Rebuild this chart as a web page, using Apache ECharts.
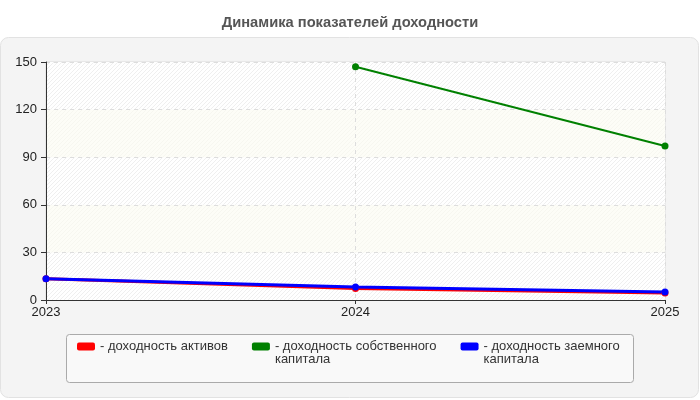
<!DOCTYPE html>
<html>
<head>
<meta charset="utf-8">
<script src="https://cdn.jsdelivr.net/npm/echarts@6/dist/echarts.min.js"></script>
<style>
  html, body { margin: 0; padding: 0; background: #fff; }
  #main { width: 700px; height: 400px; }
</style>
</head>
<body>
<div id="main"></div>
<script>
// данные графика
const years = ['2023', '2024', '2025'];
const assetsReturn = [13.4, 7.3, 4.4];
const equityReturn = [null, 147, 97];
const debtReturn = [13.4, 8.2, 5.0];
const seriesNames = [
  'доходность активов',
  'доходность собственного капитала',
  'доходность заемного капитала'
];
// пустая первая строка - чтобы значок стоял на уровне первой строки подписи
const legendLabels = [
  '- доходность активов',
  '\n- доходность собственного\nкапитала',
  '\n- доходность заемного\nкапитала'
];

// штриховка для фона
function hatch(base, line) {
  const c = document.createElement('canvas');
  c.width = 4; c.height = 4;
  const ctx = c.getContext('2d');
  ctx.fillStyle = base;
  ctx.fillRect(0, 0, 4, 4);
  ctx.strokeStyle = line;
  ctx.lineWidth = 1;
  ctx.beginPath();
  ctx.moveTo(0, 4); ctx.lineTo(4, 0);
  ctx.moveTo(-1, 1); ctx.lineTo(1, -1);
  ctx.moveTo(3, 5); ctx.lineTo(5, 3);
  ctx.stroke();
  return { image: c, repeat: 'repeat' };
}

const chart = echarts.init(document.getElementById('main'), null, { renderer: 'canvas' });
const font = "'Liberation Sans', Arial, sans-serif";

const option = {
  backgroundColor: '#fff',
  textStyle: { fontFamily: font },
  animation: false,
  title: {
    text: 'Динамика показателей доходности',
    left: 'center',
    top: 10,
    textStyle: { fontSize: 14.7, fontWeight: 'bold', color: '#555', fontFamily: font }
  },
  graphic: [
    {
      type: 'rect',
      z: -10,
      shape: { x: 0.5, y: 37.5, width: 698, height: 360, r: 8 },
      style: { fill: '#f4f4f4', stroke: '#e2e2e2', lineWidth: 1 }
    },
    {
      type: 'rect',
      z: -9,
      shape: { x: 66.5, y: 334.5, width: 567, height: 48, r: 3 },
      style: { fill: '#f9f9f9', stroke: '#aaa', lineWidth: 1 }
    }
  ],
  legend: {
    left: 77,
    top: 327,
    padding: 0,
    itemWidth: 18,
    itemHeight: 8,
    itemGap: 24,
    icon: 'roundRect',
    textStyle: { fontSize: 13, color: '#333', lineHeight: 13, fontFamily: font },
    formatter: (name) => legendLabels[seriesNames.indexOf(name)],
    data: seriesNames
  },
  grid: {
    left: 46,
    right: 35,
    top: 62,
    bottom: 100,
    show: true,
    borderColor: '#ddd',
    borderWidth: 1,
    backgroundColor: '#fff'
  },
  xAxis: {
    type: 'category',
    data: years,
    boundaryGap: false,
    axisLine: { lineStyle: { color: '#333', width: 1 } },
    axisTick: { show: true, length: 4, lineStyle: { color: '#333' } },
    axisLabel: { color: '#222', fontSize: 13, margin: 6, fontFamily: font },
    splitLine: { show: true, lineStyle: { color: '#ddd', type: [4, 4] } }
  },
  yAxis: {
    type: 'value',
    min: 0,
    max: 150,
    interval: 30,
    axisLine: { show: true, lineStyle: { color: '#333', width: 1 } },
    axisTick: { show: true, length: 5, lineStyle: { color: '#333' } },
    axisLabel: { color: '#222', fontSize: 13, margin: 9, fontFamily: font },
    splitLine: { show: true, lineStyle: { color: '#ddd', type: [4, 4] } },
    splitArea: {
      show: true,
      areaStyle: {
        color: [hatch('#ffffff', '#efefef'), hatch('#fdfdf7', '#f7f7f0')]
      }
    }
  },
  series: [
    {
      name: seriesNames[0],
      type: 'line',
      data: assetsReturn,
      color: '#ff0000',
      symbol: 'circle',
      symbolSize: 7,
      lineStyle: { width: 3, color: '#ff0000' },
      itemStyle: { color: '#ff0000' }
    },
    {
      name: seriesNames[1],
      type: 'line',
      data: equityReturn,
      color: '#008000',
      symbol: 'circle',
      symbolSize: 7,
      lineStyle: { width: 2, color: '#008000' },
      itemStyle: { color: '#008000' }
    },
    {
      name: seriesNames[2],
      type: 'line',
      data: debtReturn,
      color: '#0000ff',
      symbol: 'circle',
      symbolSize: 7,
      lineStyle: { width: 3, color: '#0000ff' },
      itemStyle: { color: '#0000ff' }
    }
  ]
};

chart.setOption(option);
window.onresize = () => {
  chart.resize();
};
</script>
</body>
</html>
